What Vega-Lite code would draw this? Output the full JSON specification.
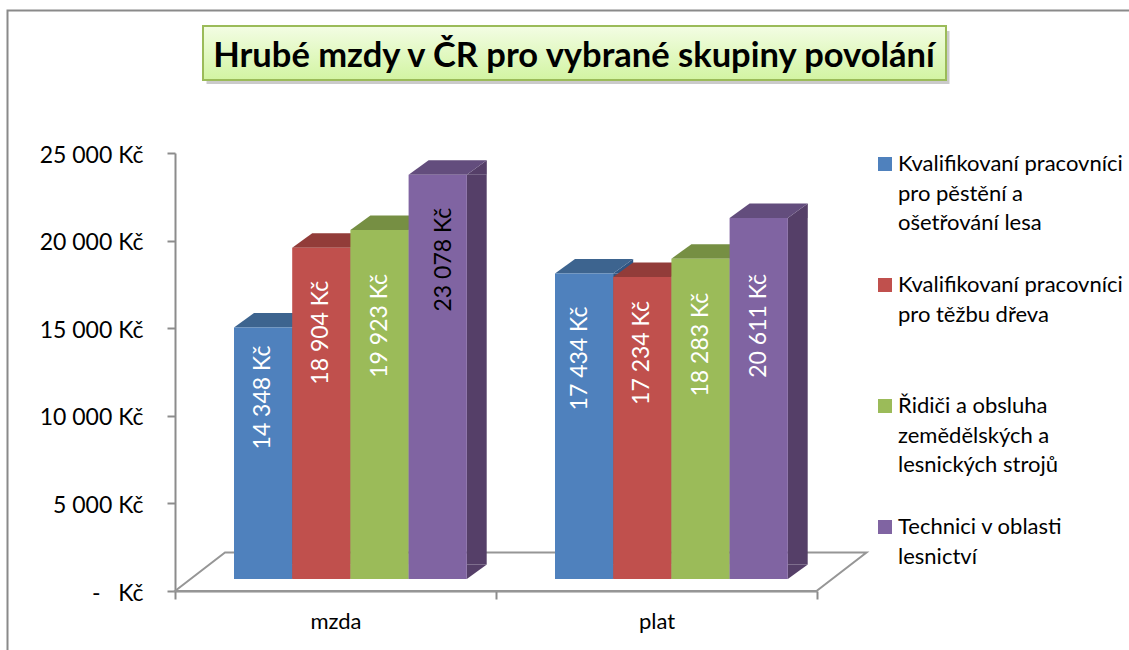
{
"$schema":"https://vega.github.io/schema/vega-lite/v6.json",
"width":642,"height":438,
"autosize":{"type":"none"},
"padding":{"left":175,"top":153,"right":312,"bottom":59},
"background":"white",
"title":{"text":"Hrubé mzdy v ČR pro vybrané skupiny povolání","font":"Lato","fontSize":34.5,"fontWeight":"bold","color":"#000000","anchor":"middle","dx":78,"offset":-68},
"config":{"view":{"stroke":null},"font":"Lato","locale":{"number":{"decimal":",","thousands":" ","grouping":[3],"currency":[""," Kč"]}}},
"datasets":{"mzdy":[
{"skupina":"mzda","povolani":"Kvalifikovaní pracovníci pro pěstění a ošetřování lesa","hodnota":14348},
{"skupina":"mzda","povolani":"Kvalifikovaní pracovníci pro těžbu dřeva","hodnota":18904},
{"skupina":"mzda","povolani":"Řidiči a obsluha zemědělských a lesnických strojů","hodnota":19923},
{"skupina":"mzda","povolani":"Technici v oblasti lesnictví","hodnota":23078},
{"skupina":"plat","povolani":"Kvalifikovaní pracovníci pro pěstění a ošetřování lesa","hodnota":17434},
{"skupina":"plat","povolani":"Kvalifikovaní pracovníci pro těžbu dřeva","hodnota":17234},
{"skupina":"plat","povolani":"Řidiči a obsluha zemědělských a lesnických strojů","hodnota":18283},
{"skupina":"plat","povolani":"Technici v oblasti lesnictví","hodnota":20611}
],"kotva":[{"skupina":"mzda","hodnota":25000,"nula":0}]},
"encoding":{
"x":{"field":"skupina","type":"nominal","title":null,"scale":{"domain":["mzda","plat"],"padding":0},
"axis":{"title":null,"labelAngle":0,"labelFont":"Lato","labelFontSize":22,"labelColor":"#000000","labelPadding":12,"domainColor":"#8c8c8c","domainWidth":2,"tickColor":"#8c8c8c","tickWidth":2,"tickSize":8,"tickBand":"extent","grid":false}},
"y":{"field":"hodnota","type":"quantitative","title":null,"scale":{"domain":[0,25000],"nice":false},
"axis":{"title":null,"values":[0,5000,10000,15000,20000,25000],"format":"$,.0f","labelExpr":"datum.value===0?'-\u00a0\u00a0\u00a0Kč':datum.label","labelFont":"Lato","labelFontSize":23,"labelColor":"#000000","labelPadding":24,"labelOffset":2,"domainColor":"#8c8c8c","domainWidth":2,"tickColor":"#8c8c8c","tickWidth":2,"tickSize":8,"grid":false}}
},
"layer":[
{"data":{"name":"kotva"},"mark":{"type":"point","filled":false,"fill":null,"opacity":1,"size":4,"stroke":"#8a8a8a","strokeWidth":2,"shape":"M-328,497 L-328,-142.5 L794,-142.5"}},
{"data":{"name":"kotva"},"mark":{"type":"point","filled":true,"opacity":0.35,"size":4,"fill":"#666666","shape":"M-129,-122 L614,-122 L614,-69 L-129,-69 Z"}},
{"data":{"name":"kotva"},"mark":{"type":"point","filled":true,"opacity":1,"size":4,"stroke":"#9BBB59","strokeWidth":2,"fill":{"gradient":"linear","x1":0,"y1":0,"x2":0,"y2":1,"stops":[{"offset":0,"color":"#F3FDE4"},{"offset":1,"color":"#D2F4A2"}]},"shape":"M-132.5,-127 L610.5,-127 L610.5,-73 L-132.5,-73 Z"}},
{"data":{"name":"kotva"},"mark":{"type":"point","filled":false,"fill":"#ffffff","opacity":1,"size":4,"stroke":"#969696","strokeWidth":2,"shape":"M-160.5,0 L-110.5,-38.5 L531,-38.5 L481,0 Z"},"encoding":{"y":{"field":"nula","type":"quantitative"}}},
{"data":{"name":"mzdy"},"mark":{"type":"bar","width":20,"yOffset":-12,"y2Offset":-26.5},
"encoding":{"xOffset":{"field":"povolani","type":"nominal","sort":null,"scale":{"paddingInner":0,"paddingOuter":0,"range":[98,330.8]}},"y2":{"datum":0},"color":{"field":"povolani","type":"nominal","sort":null,"legend":null,"scale":{"range":["#2F5583","#843B39","#66803B","#553F68"]}}}},
{"data":{"name":"mzdy"},"mark":{"type":"point","filled":true,"opacity":1,"size":4,"shape":"M29.1,-12 L49.1,-26.5 L49.1,-12 Z"},
"encoding":{"xOffset":{"field":"povolani","type":"nominal","sort":null,"scale":{"padding":0,"range":[88.1,262.7]}},"color":{"field":"povolani","type":"nominal","sort":null,"legend":null,"scale":{"range":["#2F5583","#843B39","#66803B","#553F68"]}}}},
{"data":{"name":"mzdy"},"mark":{"type":"point","filled":true,"opacity":1,"size":4,"shape":"M29.1,-12 L49.1,-26.5 L29.1,-26.5 Z"},
"encoding":{"xOffset":{"field":"povolani","type":"nominal","sort":null,"scale":{"padding":0,"range":[88.1,262.7]}},"y":{"datum":0},"color":{"field":"povolani","type":"nominal","sort":null,"legend":null,"scale":{"range":["#2F5583","#843B39","#66803B","#553F68"]}}}},
{"data":{"name":"mzdy"},"mark":{"type":"point","filled":true,"opacity":1,"size":4,"shape":"M-29.1,-12 L29.1,-12 L49.1,-26.5 L-9.1,-26.5 Z"},
"encoding":{"xOffset":{"field":"povolani","type":"nominal","sort":null,"scale":{"padding":0,"range":[88.1,262.7]}},"color":{"field":"povolani","type":"nominal","sort":null,"legend":null,"scale":{"range":["#3D648F","#923C39","#768F43","#634D7D"]}}}},
{"data":{"name":"mzdy"},"mark":{"type":"bar","yOffset":-12,"y2Offset":-12},
"encoding":{"xOffset":{"field":"povolani","type":"nominal","sort":null,"scale":{"paddingInner":0,"paddingOuter":0,"range":[59,291.8]}},"y2":{"datum":0},"color":{"field":"povolani","type":"nominal","sort":null,"scale":{"range":["#4F81BD","#C0504D","#9BBB59","#8064A2"]},
"legend":{"orient":"none","legendX":699,"legendY":0,"title":null,"padding":0,"symbolType":"square","symbolSize":196,"symbolStrokeWidth":0,"labelFont":"Lato","labelFontSize":22,"labelColor":"#000000","labelOffset":2,"labelLimit":400,"gridAlign":"all","rowPadding":40,
"labelExpr":"{'Kvalifikovaní pracovníci pro pěstění a ošetřování lesa':['Kvalifikovaní pracovníci','pro pěstění a','ošetřování lesa'],'Kvalifikovaní pracovníci pro těžbu dřeva':['Kvalifikovaní pracovníci','pro těžbu dřeva'],'Řidiči a obsluha zemědělských a lesnických strojů':['Řidiči a obsluha','zemědělských a','lesnických strojů'],'Technici v oblasti lesnictví':['Technici v oblasti','lesnictví']}[datum.label]",
"encoding":{"labels":{"lineHeight":{"value":29.5}}}}}}},
{"data":{"name":"mzdy"},"mark":{"type":"text","font":"Lato","fontSize":23,"angle":270,"align":"right","baseline":"middle",
"dx":{"expr":"-({'14348':18,'18904':33,'19923':44,'23078':33,'17434':33,'17234':24,'18283':34,'20611':56}[datum.hodnota])+12"},
"dy":{"expr":"({'23078':6,'17434':-4}[datum.hodnota]||0)"}},
"encoding":{"xOffset":{"field":"povolani","type":"nominal","sort":null,"scale":{"padding":0,"range":[88.1,262.7]}},"text":{"field":"hodnota","type":"quantitative","format":"$,.0f"},"color":{"condition":{"test":"datum.hodnota===23078","value":"#000000"},"value":"#ffffff"}}}
],
"resolve":{"scale":{"color":"independent","xOffset":"independent"}}
}
